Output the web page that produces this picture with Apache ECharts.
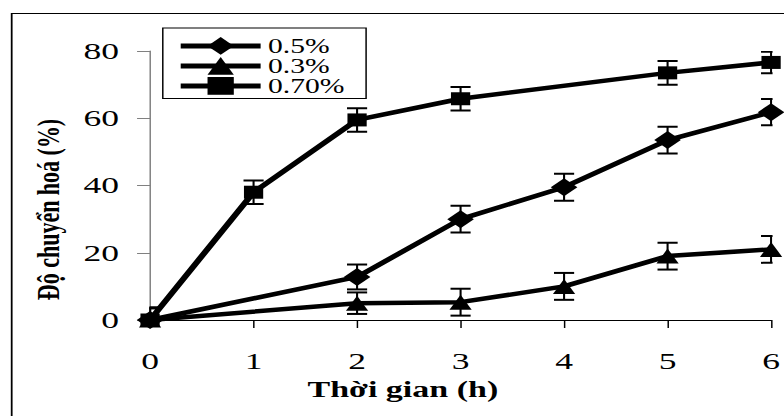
<!DOCTYPE html>
<html>
<head>
<meta charset="utf-8">
<script src="https://cdn.jsdelivr.net/npm/echarts@6/dist/echarts.min.js"></script>
<style>
html,body{margin:0;padding:0;background:#fff;overflow:hidden;}
#wrap{width:784px;height:416px;overflow:hidden;position:relative;}
#chart{width:530px;height:416px;transform:scaleX(1.48);transform-origin:0 0;}
</style>
</head>
<body>
<div id="wrap"><div id="chart"></div></div>
<script>
// Data (hours, conversion %, error)
const seriesNames = ['0.5%', '0.3%', '0.70%'];
const hours05 = [0, 2, 3, 4, 5, 6];
const val05 = [0, 12.8, 30, 39.5, 53.5, 61.8];
const err05 = [3.5, 3.7, 4, 4, 4, 3.9];
const hours03 = [0, 2, 3, 4, 5, 6];
const val03 = [0, 5, 5.3, 10, 19, 21];
const err03 = [3.5, 3.2, 4, 4, 4, 4];
const hours070 = [0, 1, 2, 3, 5, 6];
const val070 = [0, 38, 59.5, 65.8, 73.5, 76.6];
const err070 = [3.8, 3.5, 3.5, 3.5, 3.5, 3.2];
const xTicks = [0, 1, 2, 3, 4, 5, 6];
const yTicks = [0, 20, 40, 60, 80];

const FONT = 'Liberation Serif, Times New Roman, serif';

function pts(h, v) { return h.map((x, i) => [x, v[i]]); }
function errs(h, v, e) { return h.map((x, i) => [x, v[i] - e[i], v[i] + e[i]]); }

function renderErr(params, api) {
  const x = api.value(0), lo = api.value(1), hi = api.value(2);
  const p1 = api.coord([x, hi]);
  const p2 = api.coord([x, lo]);
  const hw = 6.8;
  return {
    type: 'group',
    children: [
      {type: 'line', shape: {x1: p1[0], y1: p1[1], x2: p2[0], y2: p2[1]}, style: {stroke: '#000', lineWidth: 1.4}},
      {type: 'line', shape: {x1: p1[0] - hw, y1: p1[1], x2: p1[0] + hw, y2: p1[1]}, style: {stroke: '#000', lineWidth: 2}},
      {type: 'line', shape: {x1: p2[0] - hw, y1: p2[1], x2: p2[0] + hw, y2: p2[1]}, style: {stroke: '#000', lineWidth: 2}}
    ]
  };
}

function lineSeries(name, data, symbol, size) {
  return {
    name: name, type: 'line', data: data, symbol: symbol, symbolSize: size,
    itemStyle: {color: '#000'}, lineStyle: {color: '#000', width: 4.5},
    showAllSymbol: true, z: 3
  };
}
function errSeries(data) {
  return {type: 'custom', renderItem: renderErr, data: data, encode: {x: 0, y: [1, 2]}, clip: true, z: 4, silent: true};
}

const chart = echarts.init(document.getElementById('chart'), null, {renderer: 'svg'});
chart.setOption({
  animation: false,
  backgroundColor: '#fff',
  graphic: [{
    type: 'rect', left: 5.4, top: 11,
    shape: {width: 1000, height: 1000},
    style: {fill: 'none', stroke: '#000', lineWidth: 1.2}
  }],
  grid: {left: 101.4, right: 5.7, top: 51, bottom: 96},
  legend: {
    orient: 'vertical', left: 110, top: 28,
    itemWidth: 54, itemHeight: 22.2, itemGap: 0,
    padding: [7.9, 14.6, 2.5, 9.6],
    borderColor: '#000', borderWidth: 1,
    lineStyle: {width: 5, color: '#000'},
    textStyle: {fontFamily: FONT, fontSize: 20, color: '#000'},
    data: seriesNames
  },
  xAxis: {
    type: 'value', min: 0, max: 6, interval: 1,
    name: 'Thời gian (h)', nameLocation: 'middle', nameGap: 56,
    nameTextStyle: {fontFamily: FONT, fontSize: 23, fontWeight: 'bold', color: '#000', padding: [0, 78, 0, 0]},
    axisLine: {lineStyle: {color: '#000', width: 1}},
    axisTick: {show: true, length: 8, lineStyle: {color: '#000'}},
    axisLabel: {fontFamily: FONT, fontSize: 24, color: '#000', margin: 29,
      formatter: v => xTicks.includes(v) ? String(v) : ''},
    splitLine: {show: false}
  },
  yAxis: {
    type: 'value', min: 0, max: 80, interval: 20,
    name: 'Độ chuyển hoá (%)', nameLocation: 'middle', nameGap: 58,
    nameTextStyle: {fontFamily: FONT, fontSize: 22, fontWeight: 'bold', color: '#000', padding: [0, 48, 0, 0]},
    axisLine: {show: true, lineStyle: {color: '#808080', width: 1}},
    axisTick: {show: true, length: 8.8, lineStyle: {color: '#808080'}},
    axisLabel: {fontFamily: FONT, fontSize: 24, color: '#000', margin: 21,
      formatter: v => yTicks.includes(v) ? String(v) : ''},
    splitLine: {show: false}
  },
  series: [
    lineSeries(seriesNames[0], pts(hours05, val05), 'diamond', 18),
    lineSeries(seriesNames[1], pts(hours03, val03), 'triangle', 15),
    lineSeries(seriesNames[2], pts(hours070, val070), 'rect', 13),
    errSeries(errs(hours05, val05, err05)),
    errSeries(errs(hours03, val03, err03)),
    errSeries(errs(hours070, val070, err070))
  ]
});
</script>
</body>
</html>
